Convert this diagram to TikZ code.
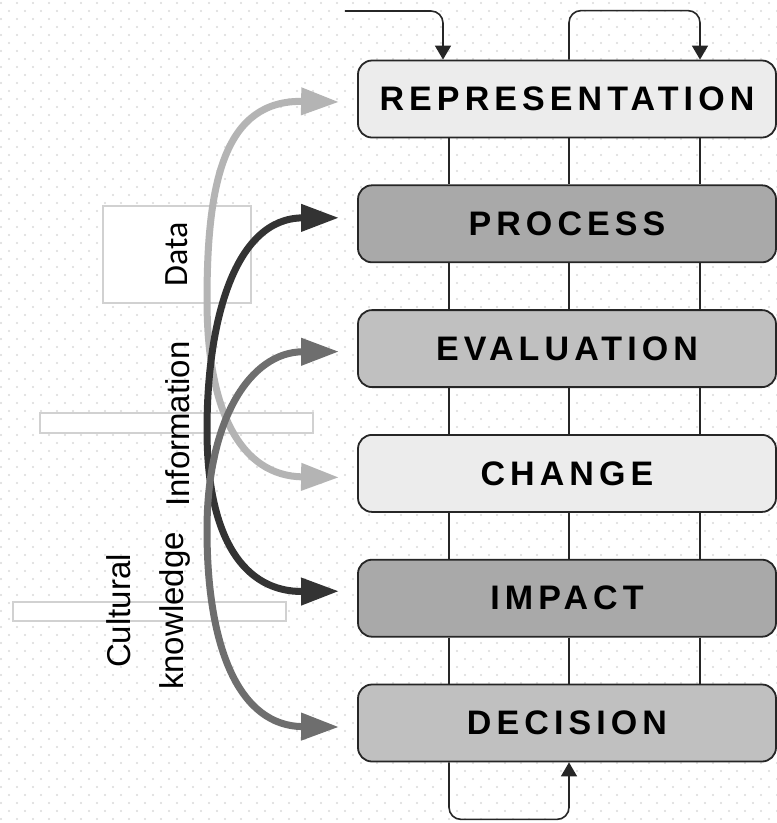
\documentclass[tikz,border=0pt]{standalone}
\usepackage{fontspec}
\setmainfont{Liberation Sans}
\newfontfamily\datafont{Carlito}
\newfontfamily\stagefont{Liberation Sans}[LetterSpace=15]
\usetikzlibrary{shapes,arrows.meta,positioning}

\definecolor{lightbox}{HTML}{ECECEC}
\definecolor{midbox}{HTML}{C0C0C0}
\definecolor{darkbox}{HTML}{A9A9A9}
\definecolor{dotgray}{HTML}{DADADA}
\definecolor{datagray}{HTML}{B4B4B4}
\definecolor{infogray}{HTML}{333333}
\definecolor{culturegray}{HTML}{6E6E6E}

\tikzstyle{stage} = [rectangle, rounded corners=14pt, minimum width=418pt, minimum height=77pt, draw=black!85, line width=1.8pt, font=\stagefont\bfseries\fontsize{34}{40}\selectfont]
\tikzstyle{frame} = [rectangle, draw=black!18, line width=1.2pt, fill=white, inner sep=0pt]
\tikzstyle{flow} = [line width=1.6pt, draw=black!85]
\tikzstyle{arrow} = [flow, -{Triangle[length=14pt,width=16pt]}, rounded corners=12pt]
\tikzstyle{strand} = [line width=7pt, {Triangle[length=38pt,width=26pt]}-{Triangle[length=38pt,width=26pt]}]

\begin{document}
\begin{tikzpicture}[x=1pt, y=-1pt, node distance=46pt]

\clip (0,0) rectangle (777,823);
\fill[white] (0,0) rectangle (777,823);

% dotted paper
\foreach \r in {0,...,102} {
  \foreach \c in {0,...,48} {
    \fill[dotgray] ({\c*16+1+8*mod(\r,2)}, {\r*8+3}) circle (1.1pt);
  }
}

% stages
\node (rep) [stage, fill=lightbox] at (567,99) {REPRESENTATION};
\node (proc) [stage, fill=darkbox, below=of rep] {PROCESS};
\node (eval) [stage, fill=midbox, below=of proc] {EVALUATION};
\node (change) [stage, fill=lightbox, below=of eval] {CHANGE};
\node (impact) [stage, fill=darkbox, below=of change] {IMPACT};
\node (dec) [stage, fill=midbox, below=of impact] {DECISION};

% lanes between stages
\foreach \a/\b in {rep/proc, proc/eval, eval/change, change/impact, impact/dec} {
  \foreach \dx in {-118,2,133} {
    \draw [flow] ([xshift=\dx pt]\a.south) -- ([xshift=\dx pt]\b.north);
  }
}

% feedback at top and bottom
\coordinate (feed) at (345,11);
\draw [arrow] (feed) -| ([xshift=-124pt]rep.north);
\draw [arrow] ([xshift=2pt]rep.north) |- ([xshift=133pt,yshift=49pt]rep.north) -- ([xshift=133pt]rep.north);
\draw [arrow] ([xshift=-118pt]dec.south) |- ([xshift=2pt,yshift=-57pt]dec.south) -- ([xshift=2pt]dec.south);

% label frames
\node (datafr) [frame, minimum width=148pt, minimum height=97pt] at (177,254.5) {};
\node (infofr) [frame, minimum width=273pt, minimum height=20pt] at (176.5,423) {};
\node (cultfr) [frame, minimum width=273pt, minimum height=19pt] at (149.5,611.5) {};

% labels
\node (data) [rotate=90, font=\datafont\fontsize{34}{40}\selectfont] at (177,254) {Data};
\node (info) [rotate=90, font=\fontsize{33}{38}\selectfont] at (178,424) {Information};
\node (cult) [rotate=90, align=center, font=\fontsize{33}{53}\selectfont] at (148,611) {Cultural\\knowledge};

% strands
\draw [strand, datagray] ([xshift=-18pt,yshift=-3pt]rep.west) .. controls (225,100) and (207,180) .. (207,300) .. controls (207,410) and (240,476) .. ([xshift=-18pt,yshift=-4pt]change.west);
\draw [strand, infogray] ([xshift=-18pt,yshift=6pt]proc.west) .. controls (235,218) and (207,320) .. (207,430) .. controls (207,540) and (245,592) .. ([xshift=-18pt,yshift=7pt]impact.west);
\draw [strand, culturegray] ([xshift=-18pt,yshift=-3pt]eval.west) .. controls (250,352) and (207,420) .. (207,530) .. controls (207,650) and (240,726) .. ([xshift=-18pt,yshift=-4pt]dec.west);

\end{tikzpicture}
\end{document}
